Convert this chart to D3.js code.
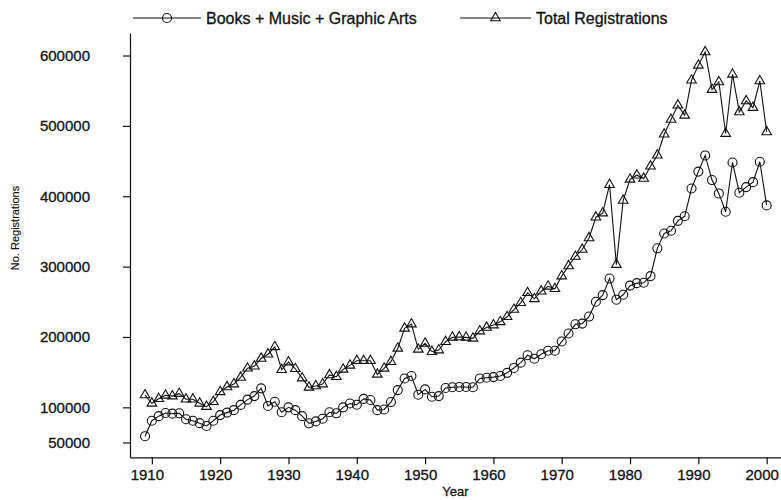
<!DOCTYPE html>
<html>
<head>
<meta charset="utf-8">
<script src="https://cdn.jsdelivr.net/npm/d3@7"></script>
<style>
  body { margin: 0; background: #fff; }
  svg text { font-family: "Liberation Sans", Arial, sans-serif; fill: #111; stroke: #111; stroke-width: 0.3px; }
  .axis path, .axis line { stroke: #111; stroke-width: 1.2; }
  .series { fill: none; stroke: #111; stroke-width: 1.1; }
  .mark { fill: none; stroke: #111; stroke-width: 1.1; }
</style>
</head>
<body>
<svg id="chart"></svg>
<script>
// copyright registrations by year
var years = d3.range(1909, 2001);

var booksMusicArt = [
  59000, 81000, 87500, 92000, 91000, 91500, 83000, 81000, 77500, 73500,
  81000, 89000, 92500, 96000, 103500, 111000, 116000, 127000, 102000, 108000,
  93000, 100000, 96000, 87500, 77300, 80000, 83800, 93000, 91500, 100000,
  105500, 103700, 112000, 110500, 96000, 97000, 107500, 124500, 141000, 144500,
  118000, 125500, 115000, 116000, 127500, 128500, 129000, 129000, 128500, 141000,
  142000, 143000, 144500, 149000, 156000, 163500, 174000, 169000, 175500, 180500,
  180500, 193500, 205000, 218000, 219000, 229000, 250000, 259500, 283000, 253000,
  260000, 273000, 276500, 277000, 286500, 326000, 347000, 351000, 365000, 371500,
  411000, 435000, 458000, 423000, 404000, 378000, 448000, 405000, 413000, 420000,
  449000, 387000
];

var totalRegs = [
  117500, 105700, 112200, 117000, 116000, 119500, 111500, 111500, 105700, 101000,
  108000, 122000, 129000, 133000, 142500, 155500, 158500, 169500, 175500, 186000,
  153500, 164300, 154800, 141600, 128400, 130300, 133100, 146000, 143500, 154000,
  159700, 166200, 166200, 166200, 146900, 155400, 164800, 183800, 212200, 218300,
  182400, 190900, 179000, 181400, 193200, 199400, 200000, 199400, 198000, 208400,
  213600, 216900, 221500, 228700, 239000, 248600, 262800, 254200, 265000, 272000,
  268500, 286500, 301000, 314300, 324300, 340700, 370200, 376000, 416400, 302800,
  394000, 424000, 429900, 425200, 442700, 458300, 488100, 509000, 529300, 515000,
  564800, 586000, 605000, 551500, 562400, 489100, 573300, 519800, 535400, 526000,
  563800, 491400
];

var xTicks = [1910, 1920, 1930, 1940, 1950, 1960, 1970, 1980, 1990, 2000];
var yTicks = [50000, 100000, 200000, 300000, 400000, 500000, 600000];
var legendLabels = ['Books + Music + Graphic Arts', 'Total Registrations'];

var draw = function(){
    const width = 781, height = 500;
    const left = 130, bottom = 457.3, top = 33;

    var svg = d3.select('svg#chart')
    .attr('width', width)
    .attr('height', height);

    let xScale = d3.scaleLinear()
    .domain([1906.8, 2002.1])
    .range([left, width]);

    let yScale = d3.scaleLinear()
    .domain([29000, 632000])
    .range([bottom, top]);

    // axes
    let xAxis = svg.append('g')
    .attr('class', 'axis')
    .attr('transform', 'translate(0,' + bottom + ')')
    .call(d3.axisBottom(xScale).tickValues(xTicks).tickFormat(d3.format('d'))
        .tickSizeInner(7).tickSizeOuter(0).tickPadding(5));
    // labels in the scan sit a little left of their ticks
    xAxis.selectAll('text')
    .attr('dx', -5)
    .style('font-size', '15px');

    let yAxis = svg.append('g')
    .attr('class', 'axis')
    .attr('transform', 'translate(' + left + ',0)')
    .call(d3.axisLeft(yScale).tickValues(yTicks).tickFormat(d3.format('d'))
        .tickSizeInner(7).tickSizeOuter(0).tickPadding(33));
    yAxis.selectAll('text').style('font-size', '15px');

    svg.append('text')
    .attr('x', (left + width) / 2)
    .attr('y', 496)
    .attr('text-anchor', 'middle')
    .style('font-size', '13px')
    .text('Year');

    svg.append('text')
    .attr('transform', 'translate(19,228) rotate(-90)')
    .attr('text-anchor', 'middle')
    .style('font-size', '11px')
    .style('stroke-width', '0.15px')
    .text('No. Registrations');

    // lines + markers
    var triangle = d3.symbol().type(d3.symbolTriangle).size(40);

    function drawSeries(values, shape){
        let pts = years.map((yr, i) => [xScale(yr), yScale(values[i])]);
        svg.append('path')
        .attr('class', 'series')
        .attr('d', d3.line()(pts));

        let g = svg.append('g');
        if(shape === 'circle'){
            g.selectAll('circle')
            .data(pts)
            .enter().append('circle')
            .attr('class', 'mark')
            .attr('cx', d => d[0])
            .attr('cy', d => d[1])
            .attr('r', 4.5);
        } else {
            g.selectAll('path')
            .data(pts)
            .enter().append('path')
            .attr('class', 'mark')
            .attr('d', triangle)
            .attr('transform', d => 'translate(' + d[0] + ',' + d[1] + ')');
        }
    }

    drawSeries(booksMusicArt, 'circle');
    drawSeries(totalRegs, 'triangle');

    // legend
    var legendY = 18;
    var items = [
        {x1: 133, x2: 201, label: legendLabels[0], shape: 'circle'},
        {x1: 460, x2: 531, label: legendLabels[1], shape: 'triangle'}
    ];
    items.forEach(item => {
        svg.append('line')
        .attr('x1', item.x1).attr('x2', item.x2)
        .attr('y1', legendY).attr('y2', legendY)
        .style('stroke', '#111').style('stroke-width', 1.1);
        let mx = (item.x1 + item.x2) / 2;
        if(item.shape === 'circle'){
            svg.append('circle').attr('class', 'mark')
            .attr('cx', mx).attr('cy', legendY).attr('r', 4.5);
        } else {
            svg.append('path').attr('class', 'mark')
            .attr('d', triangle)
            .attr('transform', 'translate(' + mx + ',' + legendY + ')');
        }
        svg.append('text')
        .attr('x', item.x2 + 5)
        .attr('y', legendY + 5.5)
        .style('font-size', '16px')
        .text(item.label);
    });
}

draw();
</script>
</body>
</html>
